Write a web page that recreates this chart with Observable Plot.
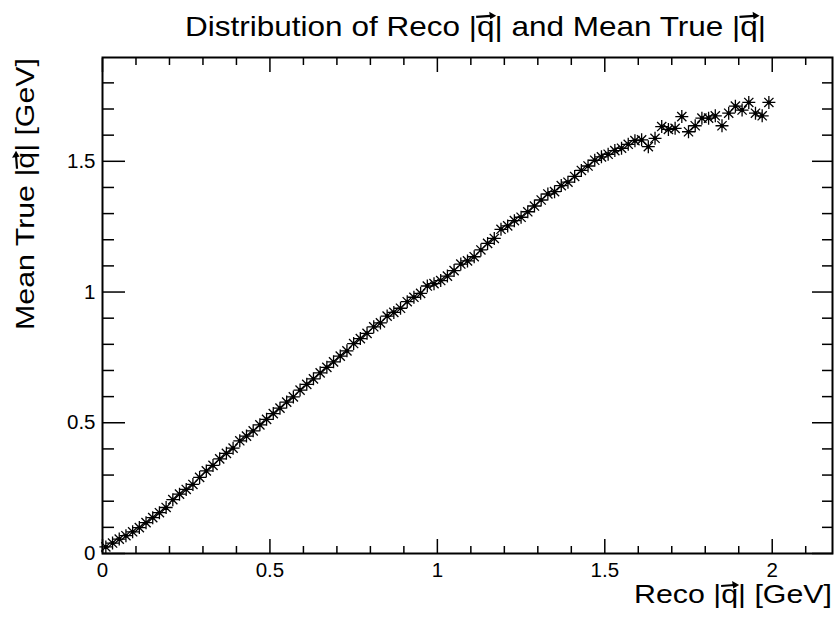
<!DOCTYPE html>
<html><head><meta charset="utf-8">
<script src="https://cdn.jsdelivr.net/npm/d3@7"></script>
<script src="https://cdn.jsdelivr.net/npm/@observablehq/plot@0.6"></script>
<style>body{margin:0;background:#fff}</style>
</head><body><div id="chart"></div>
<script>
const recoQ = [0.01,0.03,0.05,0.07,0.09,0.11,0.13,0.15,0.17,0.19,
0.21,0.23,0.25,0.27,0.29,0.31,0.33,0.35,0.37,0.39,
0.41,0.43,0.45,0.47,0.49,0.51,0.53,0.55,0.57,0.59,
0.61,0.63,0.65,0.67,0.69,0.71,0.73,0.75,0.77,0.79,
0.81,0.83,0.85,0.87,0.89,0.91,0.93,0.95,0.97,0.99,
1.01,1.03,1.05,1.07,1.09,1.11,1.13,1.15,1.17,1.19,
1.21,1.23,1.25,1.27,1.29,1.31,1.33,1.35,1.37,1.39,
1.41,1.43,1.45,1.47,1.49,1.51,1.53,1.55,1.57,1.59,
1.61,1.63,1.65,1.67,1.69,1.71,1.73,1.75,1.77,1.79,
1.81,1.83,1.85,1.87,1.89,1.91,1.93,1.95,1.97,1.99];
const meanTrueQ = [0.025,0.040,0.055,0.068,0.083,0.099,0.118,0.137,0.156,0.176,
0.206,0.227,0.245,0.264,0.291,0.316,0.337,0.362,0.383,0.403,
0.431,0.449,0.469,0.492,0.513,0.535,0.556,0.579,0.599,0.625,
0.647,0.668,0.691,0.712,0.733,0.755,0.775,0.803,0.822,0.842,
0.867,0.882,0.908,0.922,0.938,0.963,0.980,0.995,1.023,1.032,
1.044,1.061,1.082,1.107,1.119,1.135,1.161,1.186,1.205,1.240,
1.253,1.273,1.286,1.307,1.329,1.352,1.375,1.384,1.407,1.420,
1.442,1.465,1.482,1.504,1.517,1.527,1.541,1.550,1.565,1.579,
1.582,1.556,1.588,1.633,1.622,1.626,1.671,1.613,1.636,1.665,
1.665,1.674,1.636,1.684,1.711,1.696,1.725,1.684,1.674,1.725];
const xMajorTicks = [0, 0.5, 1, 1.5, 2];
const xTickLabels = ["0", "0.5", "1", "1.5", "2"];
const xMinorTicks = [0.1,0.2,0.3,0.4,0.6,0.7,0.8,0.9,1.1,1.2,1.3,1.4,1.6,1.7,1.8,1.9,2.1];
const yMajorTicks = [0, 0.5, 1, 1.5];
const yTickLabels = ["0", "0.5", "1", "1.5"];
const yMinorTicks = [0.1,0.2,0.3,0.4,0.6,0.7,0.8,0.9,1.1,1.2,1.3,1.4,1.6,1.7,1.8];
const chartTitle = "Distribution of Reco |q| and Mean True |q|";
const xTitle = "Reco |q| [GeV]";
const yTitle = "Mean True |q| [GeV]";

const data = recoQ.map((x, i) => ({x, y: meanTrueQ[i]}));
const star = {
  draw(ctx, size) {
    const r = Math.sqrt(size / Math.PI), d = r * Math.SQRT1_2;
    ctx.moveTo(-r, 0); ctx.lineTo(r, 0);
    ctx.moveTo(0, -r); ctx.lineTo(0, r);
    ctx.moveTo(-d, -d); ctx.lineTo(d, d);
    ctx.moveTo(-d, d); ctx.lineTo(d, -d);
  }
};
const fmt = (labels, ticks) => d => { const i = ticks.indexOf(d); return i >= 0 ? labels[i] : ""; };
const none = () => "";
const ax = {stroke: "black", strokeWidth: 1.5, label: null};

const plot = Plot.plot({
  width: 835, height: 619,
  marginLeft: 102, marginRight: 3, marginTop: 57, marginBottom: 66,
  style: {fontFamily: "'Liberation Sans', Arial, sans-serif", fontSize: "20.5px", color: "black", background: "white", overflow: "visible"},
  x: {domain: [0, 2.18], label: null},
  y: {domain: [0, 1.897], label: null},
  marks: [
    Plot.axisX(xMinorTicks, {...ax, anchor: "bottom", tickSize: -7, tickFormat: none}),
    Plot.axisX(xMinorTicks, {...ax, anchor: "top", tickSize: -7, tickFormat: none}),
    Plot.axisX(xMajorTicks, {...ax, anchor: "bottom", tickSize: -14, tickPadding: 23, tickFormat: fmt(xTickLabels, xMajorTicks)}),
    Plot.axisX(xMajorTicks, {...ax, anchor: "top", tickSize: -14, tickFormat: none}),
    Plot.axisY(yMinorTicks, {...ax, anchor: "left", tickSize: -12, tickFormat: none}),
    Plot.axisY(yMinorTicks, {...ax, anchor: "right", tickSize: -11, tickFormat: none}),
    Plot.axisY(yMajorTicks, {...ax, anchor: "left", tickSize: -23, tickPadding: 30, tickFormat: fmt(yTickLabels, yMajorTicks)}),
    Plot.axisY(yMajorTicks, {...ax, anchor: "right", tickSize: -21, tickFormat: none}),
    Plot.dot(data, {x: "x", y: "y", symbol: star, r: 6.5, stroke: "black", strokeWidth: 1.3, fill: "none"}),
    Plot.dot(data, {x: "x", y: "y", r: 2, fill: "black", stroke: null}),
    Plot.frame({stroke: "black", strokeWidth: 2})
  ]
});
document.getElementById("chart").append(plot);

const svg = d3.select(plot);
function addVecTitle(str, {x, y, anchor, fontSize, length, rotate}) {
  const grp = svg.append("g")
    .attr("transform", `translate(${x},${y})` + (rotate ? ` rotate(${rotate})` : ""))
    .attr("font-family", "'Liberation Sans', Arial, sans-serif");
  const t = grp.append("text")
    .attr("text-anchor", anchor).attr("font-size", fontSize).attr("fill", "black")
    .attr("textLength", length).attr("lengthAdjust", "spacingAndGlyphs").text(str);
  const node = t.node();
  for (let i = 1; i < str.length; i++) {
    if (str[i] === "q" && str[i - 1] === "|") {
      const e = node.getExtentOfChar(i);
      const cx = e.x + e.width / 2;
      const ay = -fontSize * 0.519 - fontSize * 0.2;
      const L = fontSize * 0.34;
      grp.append("path").attr("d", `M${cx - L},${ay + 1}L${cx + L - 4},${ay}`)
        .attr("stroke", "black").attr("stroke-width", 2.2).attr("fill", "none");
      grp.append("path").attr("d", `M${cx + L + 1},${ay}L${cx + L - 6},${ay - 4}L${cx + L - 5},${ay + 3.5}Z`)
        .attr("fill", "black");
    }
  }
}
addVecTitle(chartTitle, {x: 185, y: 36, anchor: "start", fontSize: 28, length: 581});
addVecTitle(xTitle, {x: 832, y: 603, anchor: "end", fontSize: 25, length: 198});
addVecTitle(yTitle, {x: 34, y: 58, anchor: "end", fontSize: 25, length: 272, rotate: -90});
</script>
</body></html>
